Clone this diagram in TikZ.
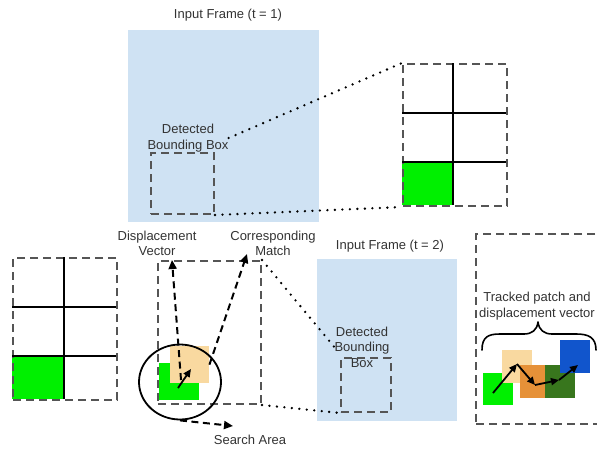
\documentclass[tikz,border=0pt]{standalone}
\usepackage{fontspec}
\setmainfont{Liberation Sans}
\usetikzlibrary{arrows.meta,decorations.pathreplacing,shapes.geometric}
\definecolor{frameblue}{HTML}{CFE2F3}
\definecolor{patchgreen}{HTML}{00F000}
\definecolor{patchtan}{HTML}{F9D9A0}
\definecolor{patchorange}{HTML}{E69138}
\definecolor{patchdkgreen}{HTML}{38761D}
\definecolor{patchblue}{HTML}{1155CC}
\definecolor{dashgray}{HTML}{555555}
\definecolor{txtgray}{HTML}{333333}
\begin{document}
\begin{tikzpicture}[x=1pt,y=-1pt,
  every node/.style={font=\fontsize{13}{15.5}\selectfont, text=txtgray},
  fillbox/.style={inner sep=0, anchor=north west, draw=none},
  box/.style={draw=dashgray, line width=2pt, dash pattern=on 8pt off 5pt, inner sep=0, anchor=north west},
  gridline/.style={line width=2pt, black},
  dots/.style={line width=2.6pt, dash pattern=on 0pt off 7.5pt, line cap=round},
  darrow/.style={line width=2pt, dash pattern=on 7pt off 4.5pt, -{Triangle[length=9pt,width=8pt]}},
  sarrow/.style={line width=1.8pt, -{Triangle[length=8pt,width=7pt]}},
  bracestyle/.style={line width=1.6pt, line cap=round, line join=round},
  lbl/.style={align=center, inner sep=0}]
\useasboundingbox (0,0) rectangle (597,450);
% ---------- Frame 1 ----------
\node[fillbox, fill=frameblue, minimum width=191pt, minimum height=192pt] (f1) at (128,30) {};
\node[lbl] (f1t) at (228,15) {Input Frame (t = 1)};
\node[box, minimum width=63pt, minimum height=61pt] (bb1) at (150,152) {};
\node[lbl] (bb1t) at (188,138) {Detected\\Bounding Box};
% ---------- Grid 1 ----------
\node[fillbox, fill=patchgreen, minimum width=51pt, minimum height=43pt] (g1c) at (402,162) {};
\node[box, minimum width=104pt, minimum height=142pt] (g1) at (402,63) {};
\draw[gridline] (453,63) -- (453,205);
\draw[gridline] (402,113) -- (506,113);
\draw[gridline] (402,162) -- (506,162);
\draw[dots] (bb1t.east) -- (g1.north west);
\draw[dots] (bb1.south east) -- (g1.south west);
% ---------- Grid 2 (left) ----------
\node[fillbox, fill=patchgreen, minimum width=52pt, minimum height=43pt] (g2c) at (12,356) {};
\node[box, minimum width=104pt, minimum height=142pt] (g2) at (12,257) {};
\draw[gridline] (64,257) -- (64,399);
\draw[gridline] (12,307) -- (116,307);
\draw[gridline] (12,356) -- (116,356);
% ---------- Middle search ----------
\node[box, minimum width=103pt, minimum height=143pt] (mb) at (157,260) {};
\node[fillbox, fill=patchgreen, minimum width=40pt, minimum height=37pt] (pg) at (159,363) {};
\node[fillbox, fill=patchtan, minimum width=39pt, minimum height=37pt] (pt) at (170,346) {};
\node[draw=black, ellipse, line width=1.8pt, minimum width=82pt, minimum height=75pt, inner sep=0] (sa) at (180,382) {};
\node[lbl] (dv) at (157,243.5) {Displacement\\Vector};
\node[lbl] (cm) at (273,243.5) {Corresponding\\Match};
\node[lbl] (sat) at (250,440) {Search Area};
\coordinate (c0) at (181,380);
\coordinate (dvtip) at (172,260);
\coordinate (cmtip) at (247,254);
\coordinate (satip) at (233,426);
\coordinate (s0) at (178,388);
\coordinate (s1) at (191,369);
\draw[darrow] (c0) -- (dvtip);
\draw[darrow] (pt.east) -- (cmtip);
\draw[darrow] (sa.south) -- (satip);
\draw[sarrow] (s0) -- (s1);
% ---------- Frame 2 ----------
\node[fillbox, fill=frameblue, minimum width=140pt, minimum height=162pt] (f2) at (317,259) {};
\node[lbl] (f2t) at (390,246) {Input Frame (t = 2)};
\node[box, minimum width=50pt, minimum height=54pt] (bb2) at (340,357) {};
\node[lbl] (bb2t) at (362,347) {Detected\\Bounding\\Box};
\draw[dots] (mb.north east) -- (bb2t.west);
\draw[dots] (mb.south east) -- (bb2.south west);
% ---------- Right panel ----------
\node[box, minimum width=140pt, minimum height=190pt] (rp) at (475,233) {};
\node[lbl] (tp) at (537,306) {Tracked patch and\\displacement vector};
\draw[bracestyle] (482,350) .. controls (482,337) and (488,334) .. (500,334) -- (524,334)
  .. controls (532,334) and (537,330) .. (538,322)
  .. controls (539,330) and (544,334) .. (552,334) -- (576,334)
  .. controls (588,334) and (596,337) .. (596,350);
\node[fillbox, fill=patchgreen, minimum width=30pt, minimum height=32pt] (q1) at (483,373) {};
\node[fillbox, fill=patchtan, minimum width=30pt, minimum height=33pt] (q2) at (502,350) {};
\node[fillbox, fill=patchorange, minimum width=25pt, minimum height=33pt] (q3) at (520,365) {};
\node[fillbox, fill=patchdkgreen, minimum width=30pt, minimum height=33pt] (q4) at (545,365) {};
\node[fillbox, fill=patchblue, minimum width=30pt, minimum height=33pt] (q5) at (560,340) {};
\coordinate (a0) at (493,393);
\coordinate (a1) at (517,364);
\coordinate (a2) at (535,385);
\coordinate (a3) at (559,380);
\coordinate (a4) at (578,365);
\draw[sarrow] (a0) -- (a1);
\draw[sarrow] (a1) -- (a2);
\draw[sarrow] (a2) -- (a3);
\draw[sarrow] (a3) -- (a4);
\end{tikzpicture}
\end{document}
